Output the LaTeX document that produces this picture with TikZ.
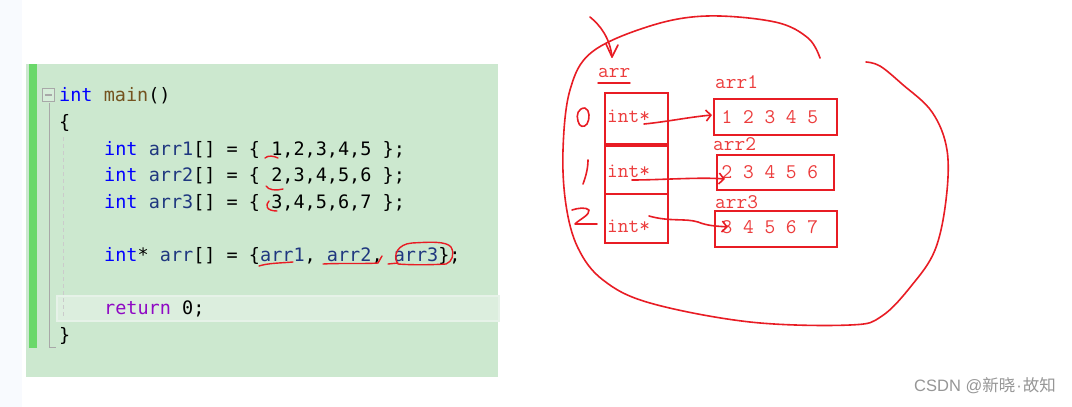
\documentclass[tikz,border=0pt]{standalone}
\usepackage{fontspec}
\usetikzlibrary{arrows.meta}
\newfontfamily\codefont{DejaVu Sans Mono}
\newfontfamily\wmlat{Liberation Sans}
\newfontfamily\cjk{Noto Sans CJK SC}
\definecolor{kwc}{HTML}{0000FF}
\definecolor{idc}{HTML}{1F377F}
\definecolor{fnc}{HTML}{74531F}
\definecolor{rtc}{HTML}{8F08C4}
\definecolor{pnl}{HTML}{CCE8CF}
\definecolor{hlc}{HTML}{DCEEDE}
\definecolor{hlb}{HTML}{E6F2E8}
\definecolor{barc}{HTML}{6AD86A}
\definecolor{guide}{HTML}{A8A8A8}
\definecolor{pen}{RGB}{232,28,36}
\definecolor{pentext}{RGB}{236,60,60}
\definecolor{wmk}{RGB}{150,150,150}
\definecolor{strip}{RGB}{248,250,254}
\newcommand{\kw}[1]{\textcolor{kwc}{#1}}
\newcommand{\idn}[1]{\textcolor{idc}{#1}}
\newcommand{\fn}[1]{\textcolor{fnc}{#1}}
\newcommand{\rt}[1]{\textcolor{rtc}{#1}}
\tikzset{
  code/.style={anchor=base west, inner sep=0pt, font=\codefont\fontsize{18.5}{20}\selectfont, text=black},
  redtxt/.style={anchor=base west, inner sep=0pt, font=\ttfamily\fontsize{20.8}{22}\selectfont, text=pentext},
  cell/.style={draw=pen, line width=2pt},
  stroke/.style={draw=pen, line width=1.6pt, line cap=round, line join=round},
  arr/.style={stroke, -{Straight Barb[length=5pt,width=11pt,line width=1.6pt]}}
}
\begin{document}
\begin{tikzpicture}[x=1pt,y=-1pt]
\useasboundingbox (0,0) rectangle (1072,407);
\fill[white] (0,0) rectangle (1072,407);
\fill[strip] (0,0) rectangle (22,407);
% code panel
\fill[pnl] (26,64) rectangle (498,377);
\fill[barc] (29,64) rectangle (37,348);
\draw[hlb, line width=2pt, fill=hlc] (57,296) rectangle (499,321);
\draw[guide, line width=1pt] (49,103) -- (49,347.5) -- (56,347.5);
\draw[guide, line width=1pt, fill=pnl!80!white] (42,88.5) rectangle (54,101.5);
\draw[guide, line width=1.2pt] (44.5,95) -- (51.5,95);
\draw[guide!60, line width=1pt, dash pattern=on 4pt off 3pt] (63,137) -- (63,318);
\node[code] (l1) at (59,101) {\kw{int} \fn{main}()};
\node[code] (l2) at (59,128) {\{};
\node[code] (l3) at (104,155) {\kw{int} \idn{arr1}[] = \{ 1,2,3,4,5 \};};
\node[code] (l4) at (104,181) {\kw{int} \idn{arr2}[] = \{ 2,3,4,5,6 \};};
\node[code] (l5) at (104,208) {\kw{int} \idn{arr3}[] = \{ 3,4,5,6,7 \};};
\node[code] (l6) at (104,261) {\kw{int}* \idn{arr}[] = \{\idn{arr1}, \idn{arr2}, \idn{arr3}\};};
\node[code] (l7) at (104,314) {\rt{return} 0;};
\node[code] (l8) at (59,341) {\}};
% red marks in code
\draw[stroke, line width=1.4pt] (265,158) .. controls (268,155) and (274,156) .. (278,158);
\draw[stroke, line width=1.4pt] (266,186) .. controls (268,190) and (276,191) .. (283,189);
\draw[stroke, line width=1.4pt] (269,201) .. controls (265,205) and (266,211) .. (277,211);
\draw[stroke, line width=1.4pt] (259,266) .. controls (268,263) and (282,263) .. (293,262);
\draw[stroke, line width=1.4pt] (323,264) .. controls (340,263) and (365,264) .. (378,263) -- (382,256);
\draw[stroke, line width=1.4pt] (388,264) -- (398,263);
\draw[stroke, line width=1.4pt] (398,264) .. controls (392,255) and (398,244) .. (412,243) .. controls (430,242) and (446,241) .. (451,247) .. controls (455,254) and (452,262) .. (446,264) .. controls (430,265) and (410,265) .. (398,264);
% right diagram
\draw[stroke] plot[smooth, tension=0.6] coordinates {(820,58) (808,38) (775,22) (707,16) (650,26) (592,52) (570,90) (563,150) (566,205) (578,248) (603,280) (650,303) (750,322) (850,325) (882,316) (912,285) (935,250) (946,200) (947,150) (932,112) (902,84) (880,66) (866,62)};
\coordinate (ts) at (590,17);
\coordinate (te) at (612,57);
\draw[stroke] (ts) .. controls (600,25) and (610,38) .. (te);
\draw[stroke] (606,44) -- (te) -- (618,45);
\node[redtxt] (arrlbl) at (598,77) {arr};
\draw[stroke, line width=1.4pt] (598,83) -- (630,83);
\node[cell, minimum width=63pt, minimum height=51pt, anchor=north west, inner sep=0pt] (c0) at (604,92) {};
\node[cell, minimum width=63pt, minimum height=48pt, anchor=north west, inner sep=0pt] (c1) at (604,145) {};
\node[cell, minimum width=63pt, minimum height=49pt, anchor=north west, inner sep=0pt] (c2) at (604,193) {};
\node[redtxt] (t0) at (607,122) {int*};
\node[redtxt] (t1) at (607,177) {int*};
\node[redtxt] (t2) at (607,232) {int*};
\node[cell, minimum width=123pt, minimum height=36pt, anchor=north west, inner sep=0pt] (a1) at (713,98) {};
\node[cell, minimum width=117pt, minimum height=35pt, anchor=north west, inner sep=0pt] (a2) at (716,154) {};
\node[cell, minimum width=122pt, minimum height=36pt, anchor=north west, inner sep=0pt] (a3) at (714,210) {};
\node[redtxt] (n1) at (721.5,123) {1 2 3 4 5};
\node[redtxt] (n2) at (721.5,178) {2 3 4 5 6};
\node[redtxt] (n3) at (721.5,233) {3 4 5 6 7};
\node[redtxt] (l1r) at (715,88) {arr1};
\node[redtxt] (l2r) at (713,150) {arr2};
\node[redtxt] (l3r) at (715,208) {arr3};
% pointer arrows
\coordinate (p0) at (644,124);
\coordinate (q0) at (712,115);
\coordinate (p1) at (632,180);
\coordinate (q1) at (725,179);
\coordinate (p2) at (649,216);
\coordinate (q2) at (728,227);
\draw[arr] (p0) .. controls (665,122) and (690,117) .. (q0);
\draw[arr] (p1) .. controls (660,180) and (700,177) .. (q1);
\draw[arr] (p2) .. controls (670,222) and (685,218) .. (698,222) .. controls (708,226) and (716,226) .. (q2);
% index marks
\draw[stroke] (585,108) .. controls (578,108) and (576,115) .. (578,121) .. controls (579,127) and (584,128) .. (587,124) .. controls (590,119) and (590,110) .. (585,108);
\draw[stroke] (588,160) .. controls (588,168) and (586,176) .. (583,184);
\draw[stroke] (572,210) .. controls (578,208) and (586,207) .. (589,210) .. controls (590,215) and (580,219) .. (575,224) -- (597,224);
% watermark
\node[anchor=east, inner sep=0pt, text=wmk] (wm) at (1056,386) {\wmlat\fontsize{16.5}{18}\selectfont CSDN @\cjk 新晓\wmlat\kern1pt·\kern1pt\cjk 故知};
\end{tikzpicture}
\end{document}
